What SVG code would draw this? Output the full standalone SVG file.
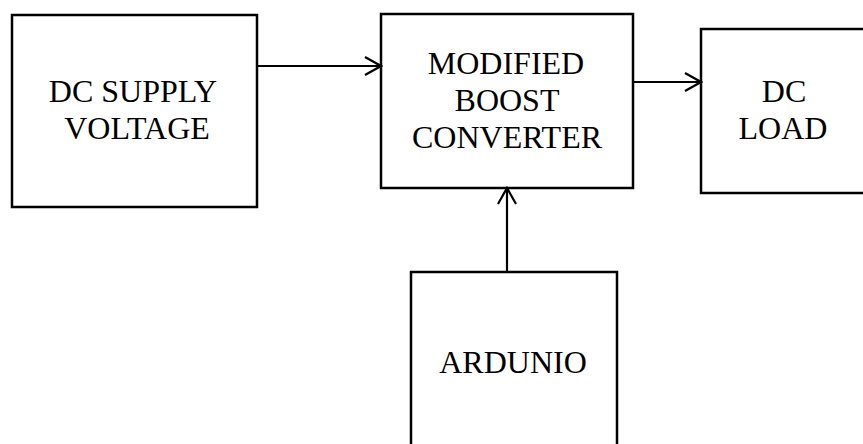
<svg xmlns="http://www.w3.org/2000/svg" width="863" height="444" viewBox="0 0 863 444">
<style>
.box{fill:#fff;stroke:#000;stroke-width:2.5}
.t{font-family:"Liberation Serif","Times New Roman",serif;font-size:32px;fill:#000;text-anchor:middle}
.c{fill:none;stroke:#000;stroke-width:2.2}
</style>
<defs>
<marker id="ah" viewBox="0 0 20 20" refX="18" refY="10" markerWidth="20" markerHeight="20" markerUnits="userSpaceOnUse" orient="auto">
<path d="M2,1 L18,10 L2,19" fill="none" stroke="#000" stroke-width="2.2"/>
</marker>
</defs>
<g id="dc-supply">
<rect class="box" x="12" y="15" width="245" height="192"/>
<text class="t" x="133" y="102">DC SUPPLY</text>
<text class="t" x="137" y="139">VOLTAGE</text>
</g>
<g id="boost">
<rect class="box" x="381" y="14" width="252" height="174"/>
<text class="t" x="506" y="74">MODIFIED</text>
<text class="t" x="507" y="111">BOOST</text>
<text class="t" x="507" y="148">CONVERTER</text>
</g>
<g id="dc-load">
<rect class="box" x="701" y="29" width="170" height="164"/>
<text class="t" x="784" y="102">DC</text>
<text class="t" x="783" y="139">LOAD</text>
</g>
<g id="ardunio">
<rect class="box" x="411" y="272" width="206" height="190"/>
<text class="t" x="513" y="373">ARDUNIO</text>
</g>
<g id="connectors">
<path class="c" d="M257,66 L381,66" marker-end="url(#ah)"/>
<path class="c" d="M633,82 L701,82" marker-end="url(#ah)"/>
<path class="c" d="M507,272 L507,188" marker-end="url(#ah)"/>
</g>
</svg>
